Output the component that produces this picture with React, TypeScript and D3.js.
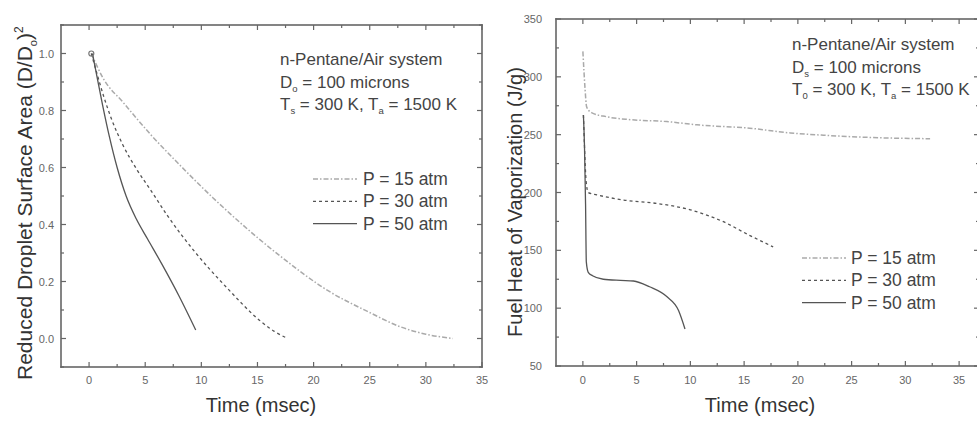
import React from "react";
import * as d3 from "d3";

// ---- data ----
const areaP15 = [[0.2, 1.0], [1.3, 0.91], [3, 0.83], [5.5, 0.715], [7.8, 0.62], [11, 0.495], [13.5, 0.405], [17, 0.29], [21.4, 0.165], [24.8, 0.095], [27.8, 0.04], [30, 0.015], [32.4, 0.0]];
const areaP30 = [[0.2, 1.0], [0.7, 0.93], [1.3, 0.85], [2, 0.77], [3, 0.68], [4.3, 0.59], [5.5, 0.52], [7, 0.43], [9.3, 0.31], [12.3, 0.177], [15.3, 0.06], [16.5, 0.025], [17.7, 0.0]];
const areaP50 = [[0.3, 1.0], [0.7, 0.92], [1.2, 0.82], [1.8, 0.71], [2.5, 0.6], [3.3, 0.5], [4.2, 0.42], [5.2, 0.35], [6.5, 0.26], [8, 0.15], [9.5, 0.03]];

const heatP15 = [[0, 322], [0.1, 305], [0.2, 290], [0.35, 274], [0.8, 269], [2.2, 265.5], [4.4, 263], [7.8, 261.3], [10.6, 258.5], [15.5, 255.6], [19.3, 251.5], [22.4, 249.5], [27, 247.5], [32.3, 246.5]];
const heatP30 = [[0.05, 267], [0.15, 240], [0.3, 210], [0.5, 200], [1.3, 198], [3.8, 193.5], [6.9, 190.5], [10, 185], [13, 175], [15.5, 163], [17.7, 153]];
const heatP50 = [[0.05, 267], [0.15, 240], [0.25, 190], [0.32, 140], [0.5, 131], [0.9, 128], [1.9, 125], [3.5, 124], [4.7, 123.5], [6.2, 118.5], [7.8, 110], [8.9, 98], [9.5, 82]];

const legendLabels = ["P = 15 atm", "P = 30 atm", "P = 50 atm"];
const xTicks = [0, 5, 10, 15, 20, 25, 30, 35];
const xMinor = [2.5, 7.5, 12.5, 17.5, 22.5, 27.5, 32.5];
const areaTicks = [0.0, 0.2, 0.4, 0.6, 0.8, 1.0];
const areaMinor = [-0.1, 0.1, 0.3, 0.5, 0.7, 0.9, 1.1];
const heatTicks = [50, 100, 150, 200, 250, 300, 350];
const heatMinor = [75, 125, 175, 225, 275, 325];

const styles = [
  { stroke: "#aaa", dash: "5,2,1.5,2", width: 1.5 },
  { stroke: "#555", dash: "3,3", width: 1.3 },
  { stroke: "#555", dash: "", width: 1.3 },
];

const font = "Liberation Sans, Arial, sans-serif";
const frameColor = "#666";

// scales for both panels
const xA = d3.scaleLinear().domain([-2.5, 35]).range([61, 482]);
const yA = d3.scaleLinear().domain([-0.1, 1.1]).range([367, 25]);
const xH = d3.scaleLinear().domain([-2.5, 36.85]).range([556, 979]);
const yH = d3.scaleLinear().domain([50, 350]).range([366, 19]);

// frame and ticks drawn as filled thin rectangles
function Frame({ x, y, yt, ym }) {
  const [x0, x1] = x.range();
  const [y1, y0] = y.range();
  const w = 1.6;
  const bars = [
    [x0 - w / 2, y0 - w / 2, x1 - x0 + w, w],
    [x0 - w / 2, y1 - w / 2, x1 - x0 + w, w],
    [x0 - w / 2, y0 - w / 2, w, y1 - y0 + w],
    [x1 - w / 2, y0 - w / 2, w, y1 - y0 + w],
  ];
  xTicks.forEach(t => { bars.push([x(t) - 0.6, y1 - 5, 1.2, 5], [x(t) - 0.6, y0, 1.2, 5]); });
  xMinor.forEach(t => { bars.push([x(t) - 0.6, y1 - 3, 1.2, 3], [x(t) - 0.6, y0, 1.2, 3]); });
  yt.forEach(t => { bars.push([x0, y(t) - 0.6, 5, 1.2], [x1 - 5, y(t) - 0.6, 5, 1.2]); });
  ym.forEach(t => { bars.push([x0, y(t) - 0.6, 3, 1.2], [x1 - 3, y(t) - 0.6, 3, 1.2]); });
  return (
    <g fill={frameColor}>
      {bars.map((b, i) => <rect key={i} x={b[0]} y={b[1]} width={b[2]} height={b[3]} />)}
    </g>
  );
}

function Curves({ x, y, series }) {
  const gen = d3.line().x(p => x(p[0])).y(p => y(p[1])).curve(d3.curveMonotoneX);
  return (
    <g>
      {series.map((s, i) => (
        <path key={i} d={gen(s)} fill="none" stroke={styles[i].stroke} strokeWidth={styles[i].width} strokeDasharray={styles[i].dash || undefined} />
      ))}
    </g>
  );
}

function TickLabels({ x, y, yt, fmt, off }) {
  const x0 = x.range()[0];
  return (
    <g fontFamily={font} fontSize={11} fill="#666">
      {xTicks.map(t => <text key={"x" + t} x={x(t)} y={384} textAnchor="middle">{t}</text>)}
      {yt.map(t => <text key={"y" + t} x={x0 - off} y={y(t) + 4} textAnchor="end">{fmt(t)}</text>)}
    </g>
  );
}

function Legend({ x0, y0, tx }) {
  return (
    <g fontFamily={font} fontSize={17.5} fill="#444">
      {legendLabels.map((l, i) => (
        <g key={l}>
          <line x1={x0} x2={x0 + 44} y1={y0 + i * 22.3} y2={y0 + i * 22.3} stroke={styles[i].stroke} strokeWidth={styles[i].width} strokeDasharray={styles[i].dash || undefined} />
          <text x={tx} y={y0 + i * 22.3 + 6}>{l}</text>
        </g>
      ))}
    </g>
  );
}

function Note({ x0, y0, dSub, tSub }) {
  return (
    <g fontFamily={font} fontSize={17} fill="#444">
      <text x={x0} y={y0}>n-Pentane/Air system</text>
      <text x={x0} y={y0 + 22.5}>D<tspan fontSize={9.5} dy={4}>{dSub}</tspan><tspan dy={-4}> = 100 microns</tspan></text>
      <text x={x0} y={y0 + 45}>T<tspan fontSize={9.5} dy={4}>{tSub}</tspan><tspan dy={-4}> = 300 K, T</tspan><tspan fontSize={9.5} dy={4}>a</tspan><tspan dy={-4}> = 1500 K</tspan></text>
    </g>
  );
}

export default function App() {
  return (
    <svg width={977} height={421} style={{ position: "absolute", left: 0, top: 0, background: "#fff" }}>
      <Curves x={xA} y={yA} series={[areaP15, areaP30, areaP50]} />
      <TickLabels x={xA} y={yA} yt={areaTicks} fmt={d3.format(".1f")} off={7} />
      <circle cx={xA(areaP15[0][0])} cy={yA(areaP15[0][1])} r={2.5} fill="none" stroke="#777" strokeWidth={1.2} />
      <Note x0={280} y0={65} dSub="o" tSub="s" />
      <Legend x0={313} y0={179} tx={363} />
      <text transform="translate(32,380) rotate(-90)" fontFamily={font} fontSize={21} fill="#333">
        Reduced Droplet Surface Area (D/D<tspan fontSize={11} dy={5}>o</tspan><tspan dy={-5}>)</tspan><tspan fontSize={12} dy={-9}>2</tspan>
      </text>
      <text x={261} y={412} fontFamily={font} fontSize={20} textAnchor="middle" fill="#333">Time (msec)</text>

      <Curves x={xH} y={yH} series={[heatP15, heatP30, heatP50]} />
      <TickLabels x={xH} y={yH} yt={heatTicks} fmt={d3.format("d")} off={14} />
      <Note x0={792} y0={50} dSub="s" tSub="0" />
      <Legend x0={802} y0={258} tx={851} />
      <text transform="translate(522,202) rotate(-90)" fontFamily={font} fontSize={20} textAnchor="middle" fill="#333">
        Fuel Heat of Vaporization (J/g)
      </text>
      <text x={760} y={412} fontFamily={font} fontSize={20} textAnchor="middle" fill="#333">Time (msec)</text>

      <Frame x={xA} y={yA} yt={areaTicks} ym={areaMinor} />
      <Frame x={xH} y={yH} yt={heatTicks} ym={heatMinor} />
    </svg>
  );
}
